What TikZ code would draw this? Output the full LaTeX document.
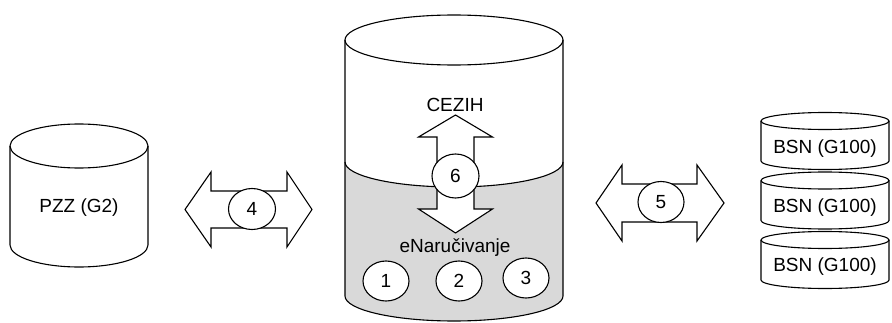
\documentclass[tikz,border=0pt]{standalone}
\usepackage{fontspec}
\setmainfont{Liberation Sans}
\usetikzlibrary{shapes.geometric}
\definecolor{lgray}{RGB}{217,217,217}
\begin{document}
\begin{tikzpicture}[x=1pt,y=1pt, line width=1.1pt, line join=miter,
  lbl/.style={font=\fontsize{19}{22}\selectfont, anchor=base, inner sep=0pt},
  num/.style={ellipse, draw, fill=white, minimum width=46pt, minimum height=40pt, inner sep=0pt, font=\fontsize{19}{22}\selectfont},
  fatarrow/.style={draw, fill=white}]
\useasboundingbox (0,0) rectangle (892,322);
% PZZ cylinder
\draw (10,176) -- (10,77) arc[start angle=180,end angle=360,x radius=69pt,y radius=22pt] -- (148,176);
\draw (79,176) ellipse[x radius=69pt,y radius=22pt];
\node[lbl] (pzz) at (79,110) {PZZ (G2)};
% big cylinder
\fill[lgray] (345,160) arc[start angle=180,end angle=360,x radius=109pt,y radius=25pt] -- (563,26) arc[start angle=0,end angle=-180,x radius=109pt,y radius=25pt] -- cycle;
\draw (345,160) arc[start angle=180,end angle=360,x radius=109pt,y radius=25pt];
\draw (345,282) -- (345,26) arc[start angle=180,end angle=360,x radius=109pt,y radius=25pt] -- (563,282);
\draw (454,282) ellipse[x radius=109pt,y radius=25pt];
\node[lbl] (cezih) at (455,211) {CEZIH};
\node[lbl] (enar) at (455,70) {eNaručivanje};
% vertical arrow 6
\draw[fatarrow] (455.5,207) -- (492.5,185) -- (474,185) -- (474,113) -- (492.5,113) -- (455.5,89) -- (418.5,113) -- (437,113) -- (437,185) -- (418.5,185) -- cycle;
\node[num, minimum width=47pt, minimum height=44pt] (n6) at (455.5,146) {6};
\node[num] (n1) at (386,41) {1};
\node[num] (n2) at (459,41) {2};
\node[num] (n3) at (526,44) {3};
% arrow 4
\draw[fatarrow] (185,112.5) -- (211,150) -- (211,131) -- (287,131) -- (287,150) -- (312,112.5) -- (287,75) -- (287,94) -- (211,94) -- (211,75) -- cycle;
\node[num, minimum width=47pt, minimum height=41pt] (n4) at (252,113) {4};
% arrow 5
\draw[fatarrow] (596,119) -- (622,157) -- (622,138) -- (697,138) -- (697,157) -- (724,119) -- (697,81) -- (697,100) -- (622,100) -- (622,81) -- cycle;
\node[num, minimum width=46pt, minimum height=41pt] (n5) at (661,120) {5};
% BSN cylinders
\foreach \t/\b/\y/\nm in {201/161/169/bsna, 141.5/101.5/110/bsnb, 82/42/51/bsnc}{
  \draw (761,\t) -- (761,\b) arc[start angle=180,end angle=360,x radius=64pt,y radius=8.5pt] -- (889,\t);
  \draw (825,\t) ellipse[x radius=64pt,y radius=8.5pt];
  \node[lbl] (\nm) at (825,\y) {BSN (G100)};
}
\end{tikzpicture}
\end{document}
